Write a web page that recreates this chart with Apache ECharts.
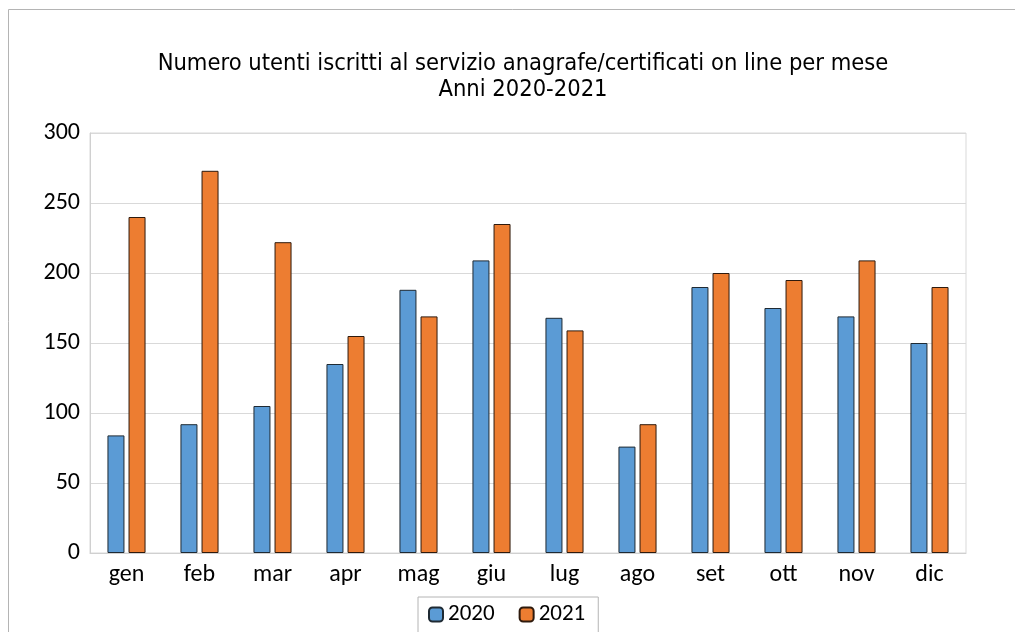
<!DOCTYPE html>
<html>
<head>
<meta charset="utf-8">
<style>
  html, body { margin: 0; padding: 0; background: #fff; }
  #chart { width: 1015px; height: 632px; }
</style>
<script src="https://cdn.jsdelivr.net/npm/echarts@6/dist/echarts.min.js"></script>
</head>
<body>
<div id="chart"></div>
<script>
// Monthly subscribers to the online registry/certificates service
const months = ['gen', 'feb', 'mar', 'apr', 'mag', 'giu', 'lug', 'ago', 'set', 'ott', 'nov', 'dic'];
const users2020 = [84, 92, 105, 135, 188, 209, 168, 76, 190, 175, 169, 150];
const users2021 = [240, 273, 222, 155, 169, 235, 159, 92, 200, 195, 209, 190];
const yTicks = [0, 50, 100, 150, 200, 250, 300];

const labelFont = 'Carlito, Lato, "Open Sans", sans-serif';
const titleFont = '"DejaVu Sans Condensed", "Liberation Sans Narrow", "DejaVu Sans", sans-serif';

const chart = echarts.init(document.getElementById('chart'), null, { renderer: 'canvas' });

chart.setOption({
  animation: false,
  backgroundColor: '#ffffff',
  graphic: [{
    type: 'rect',
    z: -1,
    shape: { x: 8.5, y: 9.5, width: 1200, height: 800 },
    style: { fill: 'none', stroke: '#b4b4b4', lineWidth: 1 }
  }],
  title: {
    text: 'Numero utenti iscritti al servizio anagrafe/certificati on line per mese\nAnni 2020-2021',
    left: 518,
    top: 46,
    textAlign: 'center',
    textStyle: {
      fontFamily: titleFont,
      fontSize: 23.5,
      fontWeight: 'normal',
      color: '#000',
      lineHeight: 26
    }
  },
  legend: {
    data: ['2020', '2021'],
    left: 418,
    top: 597,
    itemWidth: 14,
    itemHeight: 14,
    itemGap: 24,
    padding: [6, 13, 30, 10],
    borderColor: '#b4b4b4',
    borderWidth: 1,
    textStyle: { fontFamily: labelFont, fontSize: 23, color: '#000' }
  },
  grid: {
    left: 90,
    right: 49,
    top: 133,
    bottom: 79,
    show: true,
    borderColor: '#d9d9d9',
    borderWidth: 1
  },
  xAxis: {
    type: 'category',
    data: months,
    axisTick: { show: false },
    axisLine: { lineStyle: { color: '#d0d0d0' } },
    axisLabel: { fontFamily: labelFont, fontSize: 24, color: '#000', margin: 10 }
  },
  yAxis: {
    type: 'value',
    min: yTicks[0],
    max: yTicks[yTicks.length - 1],
    interval: yTicks[1] - yTicks[0],
    axisLine: { show: true, lineStyle: { color: '#d0d0d0' } },
    axisTick: { show: false },
    splitLine: { lineStyle: { color: '#d9d9d9', width: 1 } },
    axisLabel: { fontFamily: labelFont, fontSize: 24, color: '#000', margin: 10 }
  },
  series: [
    {
      name: '2020',
      type: 'bar',
      data: users2020,
      barWidth: 17,
      barGap: '24%',
      itemStyle: { color: '#5b9bd5', borderColor: '#1f2a33', borderWidth: 1 }
    },
    {
      name: '2021',
      type: 'bar',
      data: users2021,
      barWidth: 17,
      itemStyle: { color: '#ed7d31', borderColor: '#2e1a0d', borderWidth: 1 }
    }
  ]
});
</script>
</body>
</html>
